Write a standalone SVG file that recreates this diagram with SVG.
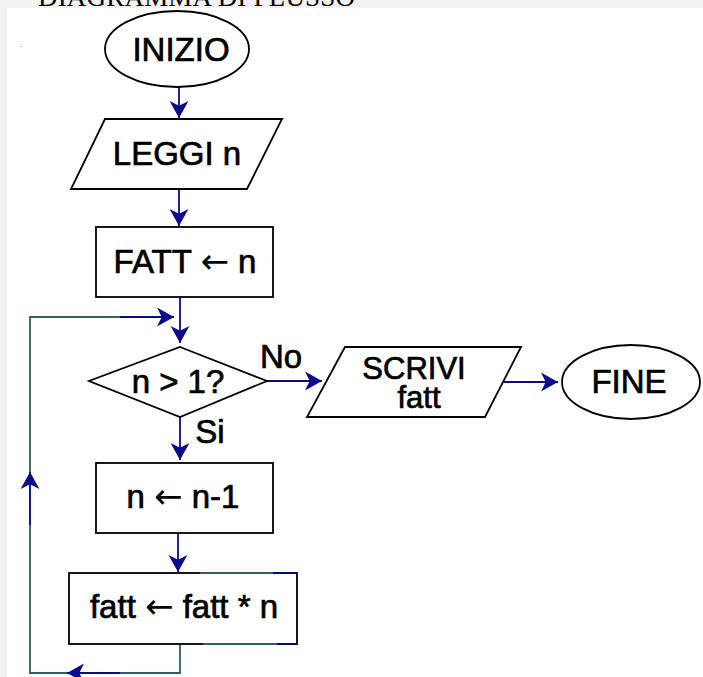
<svg xmlns="http://www.w3.org/2000/svg" width="703" height="677" viewBox="0 0 703 677">
<style>
.node{fill:#fff;stroke:#000;stroke-width:1.8}
.t{font-family:"Liberation Sans",Arial,sans-serif;font-size:33px;fill:#000;stroke:#000;stroke-width:0.7;text-anchor:middle}
.ar{font-family:"DejaVu Sans",sans-serif;font-size:34px;stroke-width:0}
.c{fill:none;stroke:#0a0a8a;stroke-width:1.8}
.loop{fill:none;stroke:#2f5f5f;stroke-width:1.8}
</style>
<defs>
<marker id="ah" viewBox="0 0 18 20" refX="18" refY="10" markerWidth="17" markerHeight="20" markerUnits="userSpaceOnUse" orient="auto">
<path d="M18,10 L0,0 L5,10 L0,20 Z" fill="#0a0a8a"/>
</marker>
</defs>
<rect x="0" y="0" width="703" height="677" fill="#f2f2f2"/>
<text x="38" y="6" font-family="'Liberation Serif','Times New Roman',serif" font-size="27" textLength="317" fill="#000">DIAGRAMMA DI FLUSSO</text>
<rect x="7" y="8" width="696" height="669" fill="#fff"/>
<rect x="20" y="46" width="2" height="1" fill="#cfcfcf"/>

<g id="connectors">
<line class="c" x1="179" y1="87" x2="179" y2="118" marker-end="url(#ah)"/>
<line class="c" x1="179" y1="189" x2="179" y2="226" marker-end="url(#ah)"/>
<line class="c" x1="180" y1="297" x2="180" y2="343" marker-end="url(#ah)"/>
<line class="c" x1="180" y1="417" x2="180" y2="460" marker-end="url(#ah)"/>
<line class="c" x1="178" y1="533" x2="178" y2="572" marker-end="url(#ah)"/>
<line class="c" x1="267" y1="381" x2="322" y2="381" marker-end="url(#ah)"/>
<line class="c" x1="504" y1="382" x2="558" y2="382" marker-end="url(#ah)"/>
<polyline class="loop" points="180,644 180,673 30,673 30,317 120,317"/>
<line class="c" x1="120" y1="673" x2="67" y2="673" marker-end="url(#ah)"/>
<line class="c" x1="30" y1="525" x2="30" y2="472" marker-end="url(#ah)"/>
<line class="c" x1="120" y1="317" x2="174" y2="317" marker-end="url(#ah)"/>
</g>

<g id="inizio">
<ellipse class="node" cx="177" cy="49" rx="72" ry="38"/>
<text class="t" x="181" y="61">INIZIO</text>
</g>
<g id="leggi">
<polygon class="node" points="105,119 282,119 247,189 71,189"/>
<text class="t" x="177" y="165">LEGGI n</text>
</g>
<g id="fatt-init">
<rect class="node" x="96" y="227" width="177" height="70"/>
<text class="t" x="185" y="273">FATT <tspan class="ar">←</tspan> n</text>
</g>
<g id="decisione">
<polygon class="node" points="180,347 267,381 180,417 89,381"/>
<text class="t" x="178" y="393">n &gt; 1?</text>
<text class="t" x="281" y="368">No</text>
<text class="t" x="210" y="443">Si</text>
</g>
<g id="scrivi">
<polygon class="node" points="345,347 521,347 485,417 307,417"/>
<text class="t" style="font-size:31px"><tspan x="414" y="379">SCRIVI</tspan><tspan x="419" y="408">fatt</tspan></text>
</g>
<g id="fine">
<ellipse class="node" cx="631" cy="382" rx="69" ry="37"/>
<text class="t" x="629" y="393">FINE</text>
</g>
<g id="decremento">
<rect class="node" x="96" y="463" width="177" height="70"/>
<text class="t" x="183" y="508">n <tspan class="ar">←</tspan> n-1</text>
</g>
<g id="prodotto">
<rect class="node" x="69" y="573" width="228" height="71"/>
<line x1="200" y1="573" x2="273" y2="573" stroke="#2f5f5f" stroke-width="1.8"/>
<line x1="273" y1="573" x2="297" y2="573" stroke="#0a0a8a" stroke-width="1.8"/>
<line x1="203" y1="644" x2="277" y2="644" stroke="#2f5f5f" stroke-width="1.8"/>
<line x1="277" y1="644" x2="297" y2="644" stroke="#0a0a8a" stroke-width="1.8"/>
<text class="t" x="184" y="618">fatt <tspan class="ar">←</tspan> fatt * n</text>
</g>
</svg>
